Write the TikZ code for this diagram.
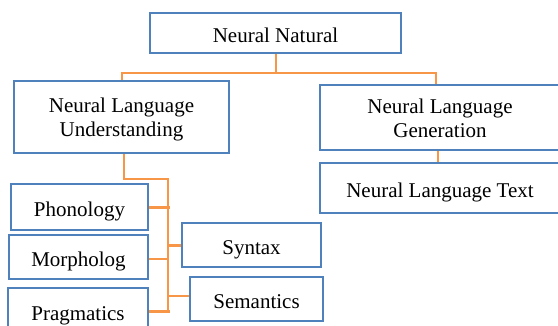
\documentclass[tikz,border=0pt]{standalone}
\usepackage{fontspec}
\setmainfont{Liberation Serif}
\usetikzlibrary{positioning}

\definecolor{boxblue}{RGB}{79,129,189}
\definecolor{linkorange}{RGB}{247,150,70}

\begin{document}
\begin{tikzpicture}[x=1pt, y=-1pt,
    box/.style={draw=boxblue, line width=2pt, fill=white, align=center, inner sep=0pt,
        text height=19.5pt, text depth=0pt, font=\fontsize{21}{24}\selectfont},
    twobox/.style={box, text height=39.5pt},
    link/.style={draw=linkorange, line width=2pt},
    thicklink/.style={draw=linkorange, line width=3pt}]

    \useasboundingbox (0,0) rectangle (558,325);
    \clip (0,0) rectangle (558,325);

    % Draw the top levels
    \node[box, minimum width=251pt, minimum height=40pt] (nn) at (275.5,33) {Neural Natural};
    \node[twobox, minimum width=215pt, minimum height=72pt] (nlu) at (121.5,117) {Neural Language\\Understanding};
    \node[twobox, minimum width=240pt, minimum height=65pt] (nlg) at (440,117.5) {Neural Language\\Generation};
    \node[box, minimum width=240pt, minimum height=50pt] (nlt) at (440,188) {Neural Language Text};

    % Draw the understanding parts
    \node[box, minimum width=137pt, minimum height=46pt] (phon) at (79.5,207) {Phonology};
    \node[box, minimum width=139pt, minimum height=44pt] (morph) at (78.5,257) {Morpholog};
    \node[box, minimum width=140pt, minimum height=46pt] (prag) at (78,311) {Pragmatics};
    \node[box, minimum width=139pt, minimum height=44pt] (syn) at (251.5,245) {Syntax};
    \node[box, minimum width=133pt, minimum height=44pt] (sem) at (256.5,299) {Semantics};

    % Connect the top levels
    \coordinate (bus) at (275.5,73);
    \coordinate (trunktop) at (168,179);
    \coordinate (trunkend) at (168,312);
    \draw[link] (nn.south) -- (bus);
    \draw[link] (bus) -| (nlu.north);
    \draw[link] (bus) -| ([xshift=-4pt]nlg.north);
    \draw[link] ([xshift=-2pt]nlg.south) -- ([xshift=-2pt]nlt.north);

    % Connect the parts to the trunk
    \draw[link] ([xshift=2.5pt]nlu.south) |- (trunktop) -- (trunkend);
    \draw[thicklink] (phon.east) -- ([xshift=2pt]phon.east -| trunktop);
    \draw[link] ([yshift=-2pt]morph.east) -- ([yshift=-2pt]morph.east -| trunktop);
    \draw[thicklink] (prag.east) -- ([xshift=2pt]prag.east -| trunktop);
    \draw[thicklink] (syn.west) -- (syn.west -| trunktop);
    \draw[link] ([yshift=3pt]sem.west) -- ([yshift=3pt]sem.west -| trunktop);

\end{tikzpicture}
\end{document}
